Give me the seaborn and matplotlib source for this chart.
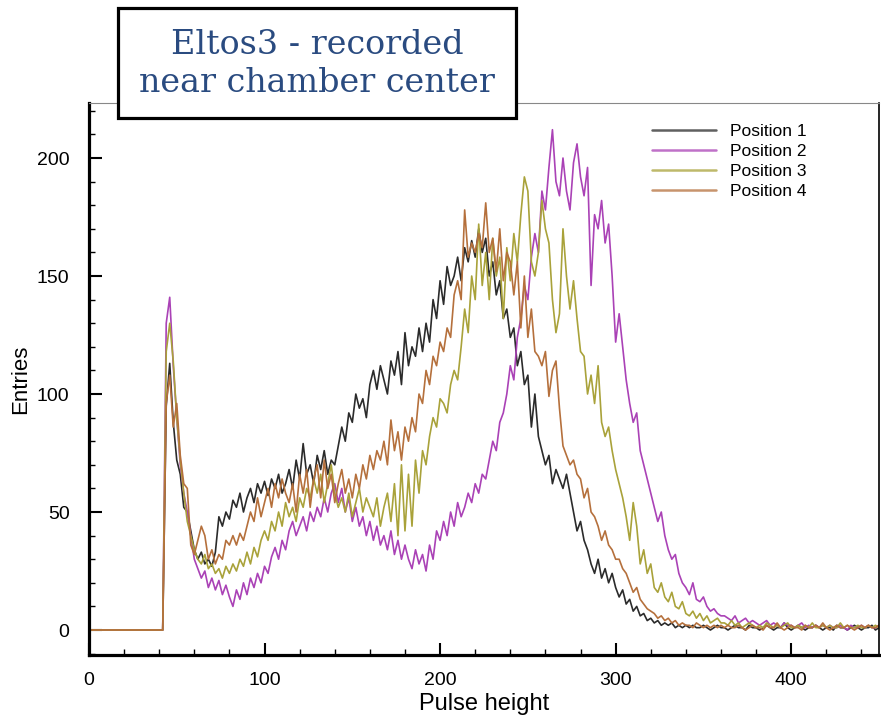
import numpy as np
import pandas as pd
import matplotlib
matplotlib.use("Agg")
import matplotlib.pyplot as plt
import seaborn as sns
from matplotlib.patches import Rectangle
from matplotlib.ticker import MultipleLocator

# ------------------------------------------------------------------
# data (bins of 2 in pulse height, 0..450)
# ------------------------------------------------------------------
pulse_height = np.arange(0, 452, 2)

# flat zero below the threshold (x = 0..40)
below_threshold = [0, 0, 0, 0, 0, 0, 0, 0, 0, 0,
                   0, 0, 0, 0, 0, 0, 0, 0, 0, 0, 0]

position_1 = [
    0, 95, 113, 88, 72, 66, 52, 50, 42, 34,
    30, 33, 28, 30, 27, 33, 48, 44, 50, 47,
    55, 52, 58, 50, 56, 60, 54, 62, 58, 63,
    57, 64, 60, 66, 58, 62, 68, 60, 72, 64,
    79, 66, 70, 62, 74, 68, 76, 66, 72, 70,
    78, 86, 80, 92, 88, 100, 94, 98, 90, 104,
    110, 102, 112, 106, 100, 114, 108, 118, 104, 126,
    112, 120, 116, 128, 118, 130, 122, 140, 132, 148,
    138, 154, 146, 150, 158, 148, 162, 156, 165, 158,
    170, 160, 166, 150, 156, 142, 148, 132, 136, 124,
    128, 112, 118, 104, 108, 86, 100, 82, 76, 70,
    74, 62, 68, 64, 60, 66, 58, 50, 42, 46,
    38, 34, 28, 24, 30, 22, 26, 20, 24, 18,
    14, 17, 11, 13, 8, 10, 6, 7, 4, 5,
    3, 4, 2, 3, 2, 3, 1, 2, 1, 2,
    1, 2, 1, 1, 2, 1, 0, 1, 2, 1,
    1, 0, 1, 2, 1, 1, 0, 2, 1, 1,
    0, 1, 2, 1, 0, 1, 1, 3, 1, 0,
    1, 2, 1, 0, 1, 1, 2, 1, 0, 1,
    1, 0, 2, 1, 1, 0, 1, 2, 1, 0,
    1, 1, 2, 0, 1,
]

position_2 = [
    0, 130, 141, 112, 90, 70, 58, 50, 40, 30,
    26, 22, 25, 18, 22, 17, 21, 15, 19, 14,
    10, 17, 13, 20, 15, 22, 18, 24, 20, 27,
    24, 31, 35, 30, 38, 34, 42, 46, 40, 44,
    48, 42, 50, 46, 52, 48, 56, 50, 58, 62,
    54, 60, 50, 56, 46, 52, 44, 48, 40, 46,
    38, 44, 36, 40, 34, 42, 32, 38, 30, 36,
    30, 26, 34, 28, 32, 25, 36, 30, 42, 38,
    46, 40, 50, 44, 54, 48, 52, 58, 54, 62,
    58, 66, 64, 72, 80, 76, 88, 92, 100, 112,
    106, 124, 132, 146, 140, 158, 168, 160, 186, 178,
    196, 212, 190, 184, 200, 186, 178, 198, 206, 192,
    184, 196, 146, 176, 170, 182, 164, 172, 150, 122,
    134, 120, 106, 96, 88, 92, 76, 70, 64, 58,
    52, 46, 50, 40, 34, 30, 32, 24, 20, 18,
    15, 20, 13, 12, 14, 10, 8, 9, 7, 6,
    6, 5, 4, 6, 3, 4, 5, 3, 4, 3,
    2, 3, 4, 2, 3, 2, 1, 3, 2, 2,
    1, 2, 3, 1, 2, 1, 2, 1, 2, 1,
    2, 1, 1, 2, 1, 0, 2, 1, 1, 2,
    1, 2, 1, 1, 2,
]

position_3 = [
    0, 118, 130, 114, 90, 72, 58, 46, 40, 34,
    30, 28, 32, 26, 28, 24, 26, 22, 27, 24,
    28, 25, 30, 27, 33, 28, 35, 31, 38, 42,
    38, 46, 42, 50, 44, 54, 48, 52, 46, 56,
    52, 60, 56, 64, 58, 66, 54, 62, 70, 58,
    52, 56, 50, 58, 48, 54, 60, 50, 56, 52,
    48, 56, 44, 52, 58, 46, 62, 40, 70, 42,
    66, 44, 72, 58, 76, 70, 82, 90, 86, 98,
    96, 92, 104, 110, 106, 120, 136, 126, 150, 140,
    172, 146, 160, 140, 166, 150, 158, 132, 162, 148,
    168, 156, 176, 192, 186, 156, 150, 160, 182, 170,
    164, 140, 126, 134, 170, 150, 136, 148, 132, 118,
    116, 100, 108, 96, 112, 88, 82, 86, 76, 68,
    62, 56, 48, 38, 54, 44, 28, 34, 24, 28,
    18, 16, 20, 14, 12, 16, 10, 9, 12, 7,
    6, 8, 5, 7, 4, 6, 3, 4, 5, 3,
    3, 2, 4, 2, 3, 1, 2, 3, 2, 1,
    2, 1, 3, 2, 1, 2, 1, 2, 3, 1,
    1, 2, 1, 2, 1, 3, 1, 1, 2, 1,
    2, 1, 1, 3, 1, 2, 1, 1, 2, 1,
    1, 2, 1, 2, 1,
]

position_4 = [
    0, 96, 108, 86, 96, 74, 62, 60, 36, 32,
    38, 44, 40, 30, 34, 28, 32, 30, 38, 36,
    40, 36, 41, 38, 44, 50, 46, 56, 48, 54,
    60, 52, 62, 56, 64, 58, 54, 62, 50, 66,
    58, 68, 52, 64, 70, 56, 72, 60, 66, 54,
    62, 68, 58, 64, 56, 66, 60, 70, 64, 74,
    68, 76, 72, 80, 70, 89, 76, 84, 72, 86,
    80, 90, 84, 100, 96, 110, 104, 116, 112, 122,
    118, 128, 124, 142, 148, 140, 178, 158, 164, 160,
    168, 162, 181, 160, 166, 152, 170, 148, 160, 156,
    142, 156, 128, 150, 124, 136, 118, 116, 112, 118,
    99, 110, 114, 94, 78, 74, 70, 72, 66, 64,
    56, 60, 50, 48, 44, 38, 42, 36, 34, 30,
    30, 26, 24, 20, 16, 18, 13, 11, 9, 8,
    7, 5, 6, 4, 5, 3, 4, 2, 3, 2,
    2, 1, 3, 2, 1, 2, 1, 2, 1, 2,
    1, 2, 1, 1, 2, 1, 0, 1, 2, 1,
    1, 0, 2, 1, 1, 3, 1, 0, 1, 2,
    1, 1, 0, 2, 1, 1, 2, 1, 3, 1,
    0, 1, 2, 1, 1, 2, 1, 0, 1, 2,
    1, 2, 1, 1, 2,
]

labels = ["Position 1", "Position 2", "Position 3", "Position 4"]
colors = ["#2b2b2b", "#aa42b6", "#a9a23a", "#b5703c"]

# long-form table for seaborn
frames = []
for lab, vals in zip(labels, [position_1, position_2, position_3, position_4]):
    frames.append(pd.DataFrame({
        "pulse_height": pulse_height,
        "entries": below_threshold + vals,
        "series": lab,
    }))
df = pd.concat(frames, ignore_index=True)

# ------------------------------------------------------------------
# plot
# ------------------------------------------------------------------
sns.set_style("ticks")
plt.rcParams["font.family"] = ["Liberation Sans", "DejaVu Sans"]
plt.rcParams["text.color"] = "black"
plt.rcParams["axes.labelcolor"] = "black"

fig = plt.figure(figsize=(8.81, 7.18), dpi=100)
ax = fig.add_axes([0.101, 0.0877, 0.8967, 0.7688])

sns.lineplot(data=df, x="pulse_height", y="entries", hue="series",
             palette=dict(zip(labels, colors)), estimator=None, sort=False,
             linewidth=1.2, ax=ax)

ax.set_xlim(0, 450)
ax.set_ylim(-10.6, 223.3)
ax.xaxis.set_major_locator(MultipleLocator(100))
ax.xaxis.set_minor_locator(MultipleLocator(20))
ax.yaxis.set_major_locator(MultipleLocator(50))
ax.yaxis.set_minor_locator(MultipleLocator(10))
ax.tick_params(which="both", direction="in", top=False, right=False,
               labelsize=14, colors="black")
ax.tick_params(which="major", length=9, width=1.5, pad=12)
ax.tick_params(which="minor", length=4.5, width=1.0)
ax.tick_params(axis="y", which="major", pad=14)

ax.spines["left"].set_linewidth(2.3)
ax.spines["bottom"].set_linewidth(2.3)
ax.spines["right"].set_linewidth(1.2)
ax.spines["top"].set_linewidth(0.8)
ax.spines["top"].set_color("#888888")
for s in ["left", "bottom", "right"]:
    ax.spines[s].set_color("black")

ax.set_xlabel("Pulse height", fontsize=17, labelpad=3)
ax.set_ylabel("Entries", fontsize=16, labelpad=4)

handles, labs = ax.get_legend_handles_labels()
leg = ax.legend(handles, labs, loc="upper left", bbox_to_anchor=(0.713, 0.962),
                frameon=False, fontsize=12.5, handlelength=3.7, handletextpad=0.75,
                labelspacing=0.27, borderpad=0, borderaxespad=0)
for line in leg.get_lines():
    line.set_linewidth(1.8)
    line.set_alpha(0.75)

# title box over the top-left of the axes
fig.patches.append(Rectangle((0.134, 0.8357), 0.4518, 0.1532,
                             transform=fig.transFigure, facecolor="white",
                             edgecolor="black", linewidth=2.3, zorder=5))
fig.text(0.3598, 0.911, "Eltos3 - recorded\nnear chamber center",
         ha="center", va="center", fontsize=24, family="DejaVu Serif",
         color="#2a4b80", linespacing=1.25, zorder=6)

fig.savefig("out.png", dpi=100)
